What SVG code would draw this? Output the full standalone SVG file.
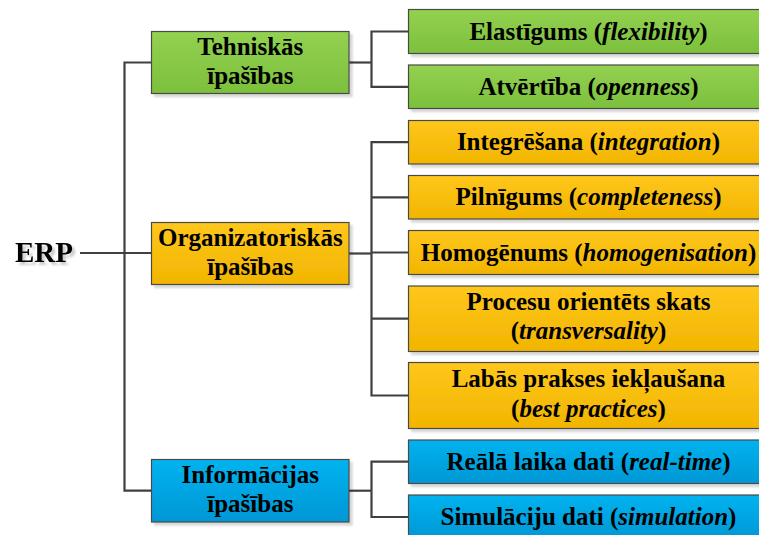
<svg xmlns="http://www.w3.org/2000/svg" width="759" height="535" viewBox="0 0 759 535">
<defs>
<linearGradient id="gG" x1="0" y1="0" x2="0" y2="1"><stop offset="0" stop-color="#93d151"/><stop offset="1" stop-color="#7cc03c"/></linearGradient>
<linearGradient id="gO" x1="0" y1="0" x2="0" y2="1"><stop offset="0" stop-color="#ffc71c"/><stop offset="1" stop-color="#f1b500"/></linearGradient>
<linearGradient id="gB" x1="0" y1="0" x2="0" y2="1"><stop offset="0" stop-color="#00b3ef"/><stop offset="1" stop-color="#0097d5"/></linearGradient>
<filter id="sh" x="-10%" y="-20%" width="130%" height="150%"><feDropShadow dx="3" dy="3" stdDeviation="1" flood-color="#000" flood-opacity="0.16"/></filter>
<filter id="tsh" x="-10%" y="-20%" width="130%" height="150%"><feDropShadow dx="3" dy="3" stdDeviation="1" flood-color="#000" flood-opacity="0.2"/></filter>
</defs>
<style>
.box{stroke:#4a4a4a;stroke-width:1.2;filter:url(#sh)}
.g{fill:url(#gG)}.o{fill:url(#gO)}.b{fill:url(#gB)}
text{font-family:"Liberation Serif","Times New Roman",serif;font-weight:bold;font-size:25px;fill:#000;text-anchor:middle}
.it{font-style:italic}
.con path{fill:none;stroke:#404040;stroke-width:2.2}
</style>
<g class="con" id="connectors">
<path d="M80 253 H151.5"/>
<path d="M151.5 62.5 H124.5 V490.7 H151.5"/>
<path d="M349 62.5 H371.5"/>
<path d="M408.5 31.5 H371.5 V86.8 H408.5"/>
<path d="M349 253.5 H371.5"/>
<path d="M408.5 142.2 H371.5 V395.5 H408.5"/>
<path d="M371.5 197.3 H408.5"/>
<path d="M371.5 252.5 H408.5"/>
<path d="M371.5 318.7 H408.5"/>
<path d="M349 490.7 H371.5"/>
<path d="M408.5 461.7 H371.5 V517 H408.5"/>
</g>
<g id="erp"><text x="44" y="262" style="font-size:29px;filter:url(#tsh)">ERP</text></g>
<g id="tehniskas"><rect class="box g" x="151.5" y="31.5" width="197.5" height="62"/><text x="250.3" y="54.5">Tehniskās</text><text x="250.3" y="83.5">īpašības</text></g>
<g id="organizatoriskas"><rect class="box o" x="151.5" y="222.5" width="197.5" height="62"/><text x="250.3" y="245.5">Organizatoriskās</text><text x="250.3" y="274.5">īpašības</text></g>
<g id="informacijas"><rect class="box b" x="151.5" y="459.5" width="197.5" height="62.5"/><text x="250.3" y="482.7">Informācijas</text><text x="250.3" y="511.7">īpašības</text></g>
<g id="elastigums"><rect class="box g" x="408.5" y="9.5" width="360" height="44"/><text x="588.5" y="39.5">Elastīgums (<tspan class="it">flexibility</tspan>)</text></g>
<g id="atvertiba"><rect class="box g" x="408.5" y="65" width="360" height="43.5"/><text x="588.5" y="94.8">Atvērtība (<tspan class="it">openness</tspan>)</text></g>
<g id="integresana"><rect class="box o" x="408.5" y="120.5" width="360" height="43.5"/><text x="588.5" y="150.2">Integrēšana (<tspan class="it">integration</tspan>)</text></g>
<g id="pilnigums"><rect class="box o" x="408.5" y="175.5" width="360" height="43.5"/><text x="588.5" y="205.3">Pilnīgums (<tspan class="it">completeness</tspan>)</text></g>
<g id="homogenums"><rect class="box o" x="408.5" y="230.5" width="360" height="44"/><text x="588.5" y="260.5">Homogēnums (<tspan class="it">homogenisation</tspan>)</text></g>
<g id="procesu"><rect class="box o" x="408.5" y="286" width="360" height="65.5"/><text x="588.5" y="310">Procesu orientēts skats</text><text x="588.5" y="339.3">(<tspan class="it">transversality</tspan>)</text></g>
<g id="labas"><rect class="box o" x="408.5" y="362.5" width="360" height="66"/><text x="588.5" y="386.7">Labās prakses iekļaušana</text><text x="588.5" y="416.5">(<tspan class="it">best practices</tspan>)</text></g>
<g id="reala"><rect class="box b" x="408.5" y="440" width="360" height="43.5"/><text x="588.5" y="469.7">Reālā laika dati (<tspan class="it">real-time</tspan>)</text></g>
<g id="simulaciju"><rect class="box b" x="408.5" y="495" width="360" height="44"/><text x="588.5" y="525">Simulāciju dati (<tspan class="it">simulation</tspan>)</text></g>
</svg>
